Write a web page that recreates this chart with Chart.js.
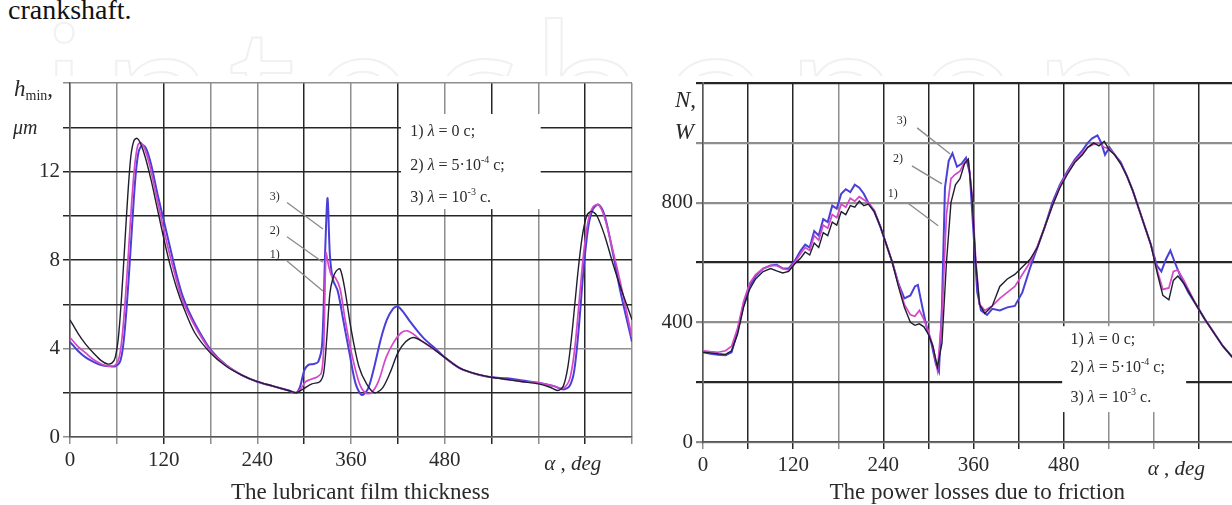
<!DOCTYPE html>
<html>
<head>
<meta charset="utf-8">
<script src="https://cdn.jsdelivr.net/npm/chart.js@4.4.1/dist/chart.umd.min.js"></script>
<style>
  html, body { margin: 0; padding: 0; width: 1232px; height: 505px; overflow: hidden; background: #fff; }
  #mark { position: absolute; left: 40px; top: -40px; width: 1200px; height: 116px; overflow: hidden;
          font: 190px 'Open Sans'; letter-spacing: 12px; color: transparent;
          -webkit-text-stroke: 2px #f1f1f1; white-space: nowrap; }
  #lead { position: absolute; left: 8px; top: -4px; font: 28px/28px 'Liberation Serif', serif; color: #111; }
  #left { position: absolute; left: 0; top: 0; }
  #right { position: absolute; left: 630px; top: 0; }
</style>
</head>
<body>
<div id="mark">intechopen</div>
<div id="lead">crankshaft.</div>
<canvas id="left" width="640" height="505"></canvas>
<canvas id="right" width="625" height="505"></canvas>
<script>
'use strict';

// DATA - LEFT CHART (LUBRICANT FILM THICKNESS, h_min IN MICROMETRES)
const hAngle1 = [0, 10, 20, 30, 40, 48, 54, 58, 62, 66, 70, 74, 78, 82, 86, 90, 96, 104, 112, 120, 128, 136, 145, 160, 180, 200, 220, 240, 260, 280, 290, 300, 310, 320, 325, 329, 333, 337, 341, 346, 352, 360, 370, 380, 390, 400, 410, 420, 430, 440, 450, 465, 480, 500, 520, 540, 560, 580, 600, 615, 625, 632, 638, 644, 650, 656, 662, 668, 675, 685, 695, 705, 720];
const hValue1 = [5.3, 4.7, 4.2, 3.8, 3.45, 3.3, 3.35, 3.6, 4.5, 6.3, 8.6, 10.9, 12.7, 13.4, 13.5, 13.3, 12.7, 11.6, 10.3, 9.0, 7.8, 6.8, 5.9, 4.7, 3.8, 3.2, 2.8, 2.5, 2.3, 2.1, 2.0, 2.2, 2.4, 2.5, 2.9, 4.5, 6.5, 7.2, 7.5, 7.6, 6.7, 4.9, 3.2, 2.4, 2.0, 2.2, 2.9, 3.8, 4.3, 4.5, 4.35, 4.0, 3.6, 3.1, 2.85, 2.7, 2.6, 2.5, 2.4, 2.25, 2.1, 2.3, 3.2, 5.0, 7.2, 9.0, 10.0, 10.2, 10.0, 9.1, 7.9, 6.8, 5.3];

const hAngle2 = [0, 10, 20, 30, 40, 50, 58, 63, 67, 71, 75, 79, 83, 87, 91, 96, 102, 110, 118, 126, 134, 142, 150, 165, 180, 200, 220, 240, 260, 280, 290, 296, 302, 308, 316, 322, 325, 328, 331, 335, 340, 346, 352, 360, 370, 378, 386, 395, 405, 415, 424, 432, 440, 450, 465, 480, 500, 520, 540, 560, 580, 600, 620, 632, 640, 646, 652, 658, 664, 670, 677, 685, 695, 705, 720];
const hValue2 = [4.5, 4.1, 3.8, 3.5, 3.3, 3.2, 3.25, 3.6, 4.6, 6.3, 8.4, 10.6, 12.3, 13.2, 13.3, 13.0, 12.3, 11.0, 9.7, 8.5, 7.4, 6.4, 5.7, 4.7, 3.9, 3.25, 2.8, 2.5, 2.3, 2.1, 2.0, 2.2, 2.5, 2.6, 2.7, 2.9, 4.0, 8.3, 7.8, 7.3, 7.2, 6.7, 5.4, 3.9, 2.5, 2.0, 2.0, 2.5, 3.6, 4.3, 4.7, 4.8, 4.65, 4.35, 4.0, 3.6, 3.1, 2.85, 2.7, 2.6, 2.5, 2.45, 2.3, 2.2, 2.6, 3.8, 6.0, 8.3, 9.8, 10.4, 10.5, 9.9, 8.5, 7.0, 4.5];

const hAngle3 = [0, 10, 20, 30, 40, 50, 58, 64, 68, 72, 76, 80, 84, 88, 93, 98, 104, 112, 120, 128, 136, 144, 152, 165, 180, 200, 220, 240, 260, 280, 290, 295, 300, 305, 312, 318, 323, 327, 330, 333, 337, 343, 350, 358, 366, 374, 382, 390, 398, 406, 414, 420, 428, 436, 445, 455, 468, 480, 500, 520, 540, 560, 580, 600, 620, 632, 640, 646, 652, 658, 664, 670, 677, 685, 695, 705, 720];
const hValue3 = [4.3, 3.9, 3.6, 3.4, 3.25, 3.2, 3.2, 3.4, 4.1, 5.6, 7.6, 9.8, 11.8, 12.9, 13.2, 13.0, 12.3, 11.0, 9.8, 8.6, 7.4, 6.4, 5.7, 4.8, 3.95, 3.25, 2.8, 2.5, 2.3, 2.1, 2.0, 2.3, 3.0, 3.25, 3.3, 3.4, 4.2, 8.5, 10.8, 8.2, 7.1, 6.6, 5.3, 3.8, 2.4, 1.9, 2.2, 3.2, 4.4, 5.3, 5.8, 5.9, 5.6, 5.2, 4.8, 4.4, 4.0, 3.6, 3.1, 2.85, 2.7, 2.65, 2.55, 2.45, 2.3, 2.15, 2.3, 3.0, 5.0, 7.6, 9.5, 10.3, 10.5, 10.0, 8.4, 6.6, 4.3];

// DATA - RIGHT CHART (POWER LOSSES DUE TO FRICTION, N IN WATTS)
const nAngle1 = [0, 10, 20, 30, 38, 46, 54, 62, 70, 80, 90, 98, 106, 114, 122, 130, 136, 142, 148, 154, 160, 166, 172, 178, 184, 190, 196, 202, 208, 214, 220, 228, 236, 244, 252, 260, 268, 276, 282, 288, 294, 300, 306, 312, 318, 324, 330, 336, 342, 348, 353, 358, 363, 368, 375, 385, 395, 405, 415, 425, 435, 445, 455, 465, 475, 485, 495, 505, 512, 520, 527, 534, 541, 548, 556, 564, 572, 580, 588, 596, 605, 612, 620, 626, 632, 640, 648, 656, 668, 680, 692, 704, 720];
const nValue1 = [300, 298, 295, 293, 305, 360, 450, 510, 545, 570, 580, 572, 565, 570, 595, 615, 635, 625, 665, 650, 700, 690, 735, 725, 770, 760, 790, 785, 805, 790, 795, 770, 720, 660, 600, 520, 450, 400, 390, 395, 385, 360, 320, 250, 330, 600, 800, 860, 880, 930, 945, 820, 600, 460, 430, 455, 520, 545, 560, 585, 610, 650, 720, 790, 850, 895, 935, 960, 985, 1000, 990, 1005, 975, 960, 930, 890, 840, 780, 720, 660, 560, 490, 475, 540, 555, 530, 495, 460, 410, 365, 320, 285, 300];

const nAngle2 = [0, 10, 20, 30, 38, 46, 54, 62, 70, 80, 90, 98, 106, 114, 122, 130, 136, 142, 148, 154, 160, 166, 172, 178, 184, 190, 196, 202, 208, 214, 220, 228, 236, 244, 252, 260, 268, 276, 282, 288, 294, 300, 306, 312, 318, 324, 330, 336, 342, 348, 353, 358, 363, 368, 375, 385, 395, 405, 415, 425, 435, 445, 455, 465, 475, 485, 495, 505, 512, 520, 527, 534, 541, 548, 556, 564, 572, 580, 588, 596, 605, 612, 620, 626, 632, 640, 648, 656, 668, 680, 692, 704, 720];
const nValue2 = [305, 302, 300, 305, 320, 380, 470, 530, 560, 580, 590, 590, 580, 575, 600, 630, 650, 640, 690, 675, 725, 715, 760, 750, 795, 785, 815, 805, 820, 810, 800, 775, 720, 660, 600, 530, 460, 425, 420, 440, 410, 370, 320, 240, 420, 760, 880, 895, 905, 935, 945, 830, 610, 460, 440, 455, 480, 500, 520, 560, 600, 655, 720, 790, 855, 900, 940, 965, 985, 995, 1000, 985, 980, 960, 930, 890, 840, 780, 720, 660, 570, 510, 515, 570, 575, 540, 500, 460, 410, 365, 320, 285, 300];

const nAngle3 = [0, 10, 20, 30, 38, 46, 54, 62, 70, 80, 90, 98, 106, 114, 122, 130, 136, 142, 148, 154, 160, 166, 172, 178, 184, 190, 196, 202, 208, 214, 220, 228, 236, 244, 252, 260, 268, 276, 282, 286, 292, 298, 304, 310, 314, 318, 322, 327, 332, 338, 344, 350, 355, 360, 365, 370, 378, 385, 395, 405, 415, 425, 435, 445, 455, 465, 475, 485, 495, 505, 512, 518, 525, 530, 535, 541, 548, 556, 564, 572, 580, 588, 596, 604, 610, 616, 622, 628, 636, 646, 656, 668, 680, 692, 704, 720];
const nValue3 = [300, 295, 292, 290, 300, 370, 460, 520, 555, 580, 590, 592, 580, 580, 605, 640, 660, 650, 705, 690, 745, 735, 790, 780, 830, 845, 835, 860, 850, 830, 800, 770, 720, 660, 600, 530, 480, 490, 520, 525, 450, 380, 330, 260, 235, 450, 850, 940, 965, 920, 930, 950, 900, 700, 500, 440, 425, 445, 440, 450, 455, 500, 580, 650, 720, 800, 860, 905, 945, 975, 1000, 1015, 1025, 1000, 960, 985, 960, 935, 890, 840, 780, 720, 660, 590, 570, 610, 640, 600, 550, 500, 460, 410, 365, 320, 285, 300];

// TICK LABELS
const xTickLabels = [0, 120, 240, 360, 480];
const hTickLabels = [0, 4, 8, 12];
const nTickLabels = [0, 400, 800];

// LEGEND TEXT (SAME ON BOTH CHARTS)
const legendRows = [
  [['1) ', ''], ['λ', 'i'], [' = 0 c;', '']],
  [['2) ', ''], ['λ', 'i'], [' = 5·10', ''], ['-4', 'sup'], [' c;', '']],
  [['3) ', ''], ['λ', 'i'], [' = 10', ''], ['-3', 'sup'], [' c.', '']],
];

// COLOURS OF THE THREE CURVES
const seriesColors = ['#1e1e30', '#d447c8', '#4a3fd6'];
const seriesWidths = [1.4, 1.7, 2.0];

const SERIF = "'Liberation Serif', 'DejaVu Serif', serif";

// DRAW A LINE OF TEXT MADE OF PIECES (ITALIC, SUPERSCRIPT, SUBSCRIPT)
function richText(ctx, parts, x, y, size, align) {
  const fontFor = (k) => {
    const small = k === 'sup' || k === 'sub';
    return Math.round(small ? size * 0.62 : size) + 'px ' + SERIF;
  };
  const styled = (k) => (k === 'i' ? 'italic ' : '') + fontFor(k);
  let w = 0;
  parts.forEach(([t, k]) => { ctx.font = styled(k); w += ctx.measureText(t).width; });
  let cx = align === 'right' ? x - w : align === 'center' ? x - w / 2 : x;
  ctx.textAlign = 'left';
  ctx.textBaseline = 'middle';
  parts.forEach(([t, k]) => {
    ctx.font = styled(k);
    let dy = 0;
    if (k === 'sup') dy = -size * 0.36;
    if (k === 'sub') dy = size * 0.3;
    ctx.fillText(t, cx, y + dy);
    cx += ctx.measureText(t).width;
  });
}

// PLUGIN FOR LEGEND BOX, LEADER LINES AND AXIS CAPTIONS
function decorPlugin(d) {
  return {
    id: 'decor',
    beforeDatasetsDraw(chart) {
      const { ctx, scales: { x, y } } = chart;
      const b = d.box;
      const l = x.getPixelForValue(b[0]);
      const r = x.getPixelForValue(b[1]);
      const t = y.getPixelForValue(b[2]);
      const bt = y.getPixelForValue(b[3]);
      ctx.save();
      ctx.fillStyle = '#fff';
      ctx.fillRect(l, t, r - l, bt - t);
      ctx.restore();
    },
    afterDatasetsDraw(chart) {
      const { ctx, chartArea, scales: { x, y } } = chart;
      ctx.save();
      ctx.fillStyle = '#2a2a2a';
      legendRows.forEach((parts, i) => {
        richText(ctx, parts, x.getPixelForValue(d.legendX), y.getPixelForValue(d.legendY[i]), 16, 'left');
      });
      ctx.strokeStyle = '#8a8a8a';
      ctx.lineWidth = 1.3;
      d.notes.forEach((n) => {
        ctx.beginPath();
        ctx.moveTo(x.getPixelForValue(n.from[0]), y.getPixelForValue(n.from[1]));
        ctx.lineTo(x.getPixelForValue(n.to[0]), y.getPixelForValue(n.to[1]));
        ctx.stroke();
        richText(ctx, [[n.label, '']], x.getPixelForValue(n.at[0]), y.getPixelForValue(n.at[1]), 12, 'left');
      });
      d.units.forEach((u) => {
        richText(ctx, u.parts, chartArea.left + u.dx, y.getPixelForValue(u.v), u.size, u.align);
      });
      richText(ctx, [['α', 'i'], [' , ', ''], ['deg', 'i']], x.getPixelForValue(d.alphaAt), chartArea.bottom + 27, 21, 'center');
      richText(ctx, [[d.title, '']], x.getPixelForValue(d.titleAt), chartArea.bottom + d.titleDy, 23, 'center');
      ctx.restore();
    },
  };
}

function makeChart(id, c) {
  const datasets = c.angles.map((a, s) => ({
    data: a.map((v, i) => ({ x: v, y: c.values[s][i] })),
    borderColor: seriesColors[s],
    borderWidth: seriesWidths[s],
    pointRadius: 0,
    tension: c.tension,
    fill: false,
  }));
  return new Chart(document.getElementById(id), {
    type: 'line',
    data: { datasets: datasets },
    options: {
      responsive: false,
      animation: false,
      layout: { padding: { top: 83, right: c.padRight, left: 0, bottom: 0 } },
      plugins: { legend: { display: false }, tooltip: { enabled: false } },
      scales: {
        x: {
          type: 'linear',
          min: 0,
          max: 720,
          afterFit: (s) => { s.height = c.xHeight; },
          ticks: {
            stepSize: 60,
            autoSkip: false,
            maxRotation: 0,
            padding: 4,
            color: '#2a2a2a',
            font: { family: SERIF, size: 21 },
            callback: (v) => (xTickLabels.includes(v) ? String(v) : ''),
          },
          grid: {
            lineWidth: 1.5,
            tickLength: 7,
            color: (ctx) => (c.darkX.includes(ctx.tick.value) ? '#262626' : '#8e8e8e'),
          },
          border: { color: '#555', width: 1.5 },
        },
        y: {
          min: 0,
          max: c.yMax,
          afterFit: (s) => { s.width = c.yWidth; },
          ticks: {
            stepSize: c.yStep,
            autoSkip: false,
            padding: 3,
            color: '#2a2a2a',
            font: { family: SERIF, size: 21 },
            callback: (v) => (c.yLabels.includes(v) ? String(v) : ''),
          },
          grid: {
            lineWidth: c.yGridWidth,
            tickLength: 7,
            color: (ctx) => (c.darkY.includes(ctx.tick.value) ? '#262626' : '#8e8e8e'),
          },
          border: { color: '#555', width: 1.5 },
        },
      },
    },
    plugins: [decorPlugin(c.decor)],
  });
}

// LEFT CHART
makeChart('left', {
  angles: [hAngle1, hAngle2, hAngle3],
  values: [hValue1, hValue2, hValue3],
  tension: 0.3,
  padRight: 8,
  xHeight: 68,
  yWidth: 70,
  yMax: 16,
  yStep: 2,
  yLabels: hTickLabels,
  yGridWidth: 1.5,
  darkX: [120, 300, 420, 540, 660],
  darkY: [2, 6, 8, 10, 12, 14],
  decor: {
    box: [424, 603, 14.6, 10.3],
    legendX: 436,
    legendY: [13.8, 12.25, 10.8],
    notes: [
      { label: '3)', at: [256, 10.85], from: [278, 10.6], to: [324, 9.4] },
      { label: '2)', at: [256, 9.3], from: [278, 9.05], to: [324, 7.9] },
      { label: '1)', at: [256, 8.25], from: [278, 7.95], to: [324, 6.6] },
    ],
    units: [
      { parts: [['h', 'i'], ['min', 'sub'], [',', '']], dx: -56, v: 15.7, size: 23, align: 'left' },
      { parts: [['μm', 'i']], dx: -57, v: 13.95, size: 20, align: 'left' },
    ],
    alphaAt: 644,
    title: 'The lubricant film thickness',
    titleAt: 372,
    titleDy: 56,
  },
});

// RIGHT CHART
makeChart('right', {
  angles: [nAngle1, nAngle2, nAngle3],
  values: [nValue1, nValue2, nValue3],
  tension: 0,
  padRight: 11,
  xHeight: 63,
  yWidth: 73,
  yMax: 1200,
  yStep: 200,
  yLabels: nTickLabels,
  yGridWidth: 2.2,
  darkX: [60, 120, 240, 300, 360, 420, 480, 660],
  darkY: [200, 600, 1200],
  decor: {
    box: [478, 643, 387, 100],
    legendX: 489,
    legendY: [340, 247, 147],
    notes: [
      { label: '3)', at: [258, 1073], from: [285, 1050], to: [329, 963] },
      { label: '2)', at: [253, 947], from: [278, 923], to: [318, 863] },
      { label: '1)', at: [246, 830], from: [272, 800], to: [313, 723] },
    ],
    units: [
      { parts: [['N', 'i'], [',', '']], dx: -7, v: 1140, size: 23, align: 'right' },
      { parts: [['W', 'i']], dx: -9, v: 1033, size: 23, align: 'right' },
    ],
    alphaAt: 630,
    title: 'The power losses due to friction',
    titleAt: 365,
    titleDy: 51,
  },
});
</script>
</body>
</html>
